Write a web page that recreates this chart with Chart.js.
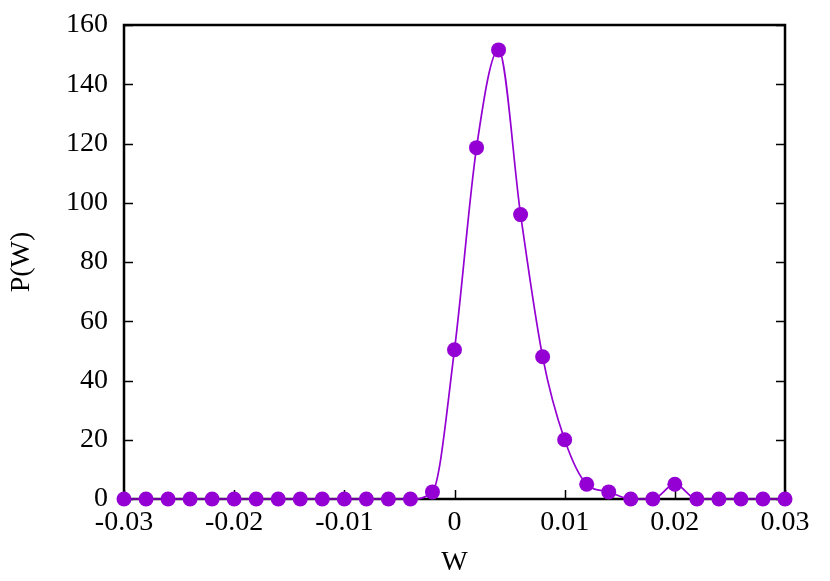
<!DOCTYPE html>
<html>
<head>
<meta charset="utf-8">
<script src="https://cdn.jsdelivr.net/npm/chart.js@4.4.1/dist/chart.umd.min.js"></script>
<style>
  html, body { margin: 0; padding: 0; background: #fff; }
  #wrap { width: 830px; height: 581px; }
</style>
</head>
<body>
<div id="wrap"><canvas id="pw" width="830" height="581"></canvas></div>
<script>
// W values (x) and P(W) values (y)
const wValues = [-0.030, -0.028, -0.026, -0.024, -0.022, -0.020, -0.018, -0.016,
                 -0.014, -0.012, -0.010, -0.008, -0.006, -0.004, -0.002, 0.000,
                  0.002,  0.004,  0.006,  0.008,  0.010,  0.012,  0.014,  0.016,
                  0.018,  0.020,  0.022,  0.024,  0.026,  0.028,  0.030];
const pValues = [0, 0, 0, 0, 0, 0, 0, 0,
                 0, 0, 0, 0, 0, 0, 2.4, 50.4,
                 118.6, 151.6, 96.0, 48.0, 20.0, 5.0, 2.4, 0,
                 0, 5.0, 0, 0, 0, 0, 0];
const xTicks = [-0.03, -0.02, -0.01, 0, 0.01, 0.02, 0.03];
const yTicks = [0, 20, 40, 60, 80, 100, 120, 140, 160];

const FONT = "'Liberation Serif', 'Times New Roman', serif";
const PURPLE = '#9400d3';

// frame + inward ticks (gnuplot style: left, bottom, right mirror)
const framePlugin = {
    id: 'frame',
    beforeDatasetsDraw(chart) {
        const { ctx, chartArea: a, scales } = chart;
        ctx.save();
        ctx.strokeStyle = '#000';
        ctx.lineWidth = 1.5;
        const tl = 9;
        ctx.beginPath();
        yTicks.forEach(v => {
            const y = Math.round(scales.y.getPixelForValue(v)) + 0.5;
            ctx.moveTo(a.left, y); ctx.lineTo(a.left + tl, y);
            ctx.moveTo(a.right, y); ctx.lineTo(a.right - tl, y);
        });
        xTicks.forEach(v => {
            const x = Math.round(scales.x.getPixelForValue(v)) + 0.5;
            ctx.moveTo(x, a.bottom); ctx.lineTo(x, a.bottom - tl);
        });
        ctx.stroke();
        ctx.lineWidth = 2.5;
        ctx.strokeRect(a.left, a.top, a.right - a.left, a.bottom - a.top);
        ctx.restore();
    }
};

const points = wValues.map((w, i) => ({ x: w, y: pValues[i] }));

new Chart(document.getElementById('pw').getContext('2d'), {
    type: 'scatter',
    data: {
        datasets: [{
            data: points,
            showLine: true,
            borderColor: PURPLE,
            backgroundColor: PURPLE,
            borderWidth: 1.7,
            pointRadius: 7.5,
            pointHoverRadius: 7.5,
            pointBorderWidth: 0,
            cubicInterpolationMode: 'monotone',
            clip: false
        }]
    },
    options: {
        responsive: false,
        animation: false,
        events: [],
        layout: { padding: { top: 25, right: 45, left: 0, bottom: 0 } },
        plugins: {
            legend: { display: false },
            tooltip: { enabled: false }
        },
        scales: {
            x: {
                type: 'linear',
                min: -0.03,
                max: 0.03,
                afterFit: s => { s.height = 82; s.paddingLeft = 0; s.paddingRight = 0; },
                afterBuildTicks: s => { s.ticks = xTicks.map(v => ({ value: v })); },
                grid: { display: false, drawTicks: false },
                border: { display: false },
                ticks: {
                    padding: 7,
                    color: '#000',
                    font: { family: FONT, size: 28 },
                    maxRotation: 0,
                    callback: v => String(Math.round(v * 100) / 100)
                },
                title: {
                    display: true,
                    text: 'W',
                    color: '#000',
                    font: { family: FONT, size: 28 },
                    padding: { top: 0, bottom: 2 }
                }
            },
            y: {
                min: 0,
                max: 160,
                afterFit: s => { s.width = 124; s.paddingTop = 0; s.paddingBottom = 0; },
                afterBuildTicks: s => { s.ticks = yTicks.map(v => ({ value: v })); },
                grid: { display: false, drawTicks: false },
                border: { display: false },
                ticks: {
                    padding: 16,
                    color: '#000',
                    font: { family: FONT, size: 28 }
                },
                title: {
                    display: true,
                    text: 'P(W)',
                    color: '#000',
                    font: { family: FONT, size: 28 },
                    padding: { top: 5, bottom: 0 }
                }
            }
        }
    },
    plugins: [framePlugin]
});
</script>
</body>
</html>
